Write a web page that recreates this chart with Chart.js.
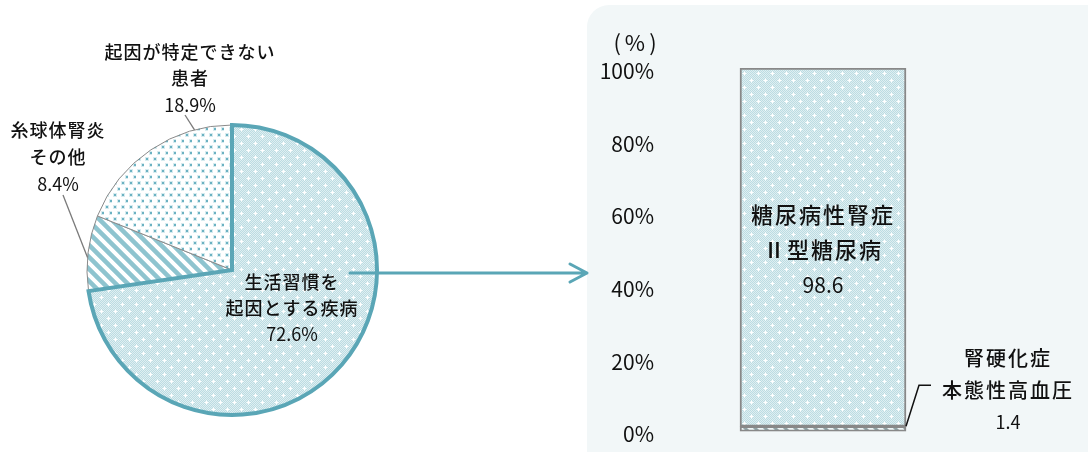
<!DOCTYPE html>
<html lang="ja">
<head>
<meta charset="utf-8">
<script src="https://cdn.jsdelivr.net/npm/chart.js@4.4.1/dist/chart.umd.min.js"></script>
<style>
  html, body { margin: 0; padding: 0; background: #fff; }
  body { width: 1088px; height: 452px; position: relative; overflow: hidden; }
  #panel { position: absolute; left: 587px; top: 5px; width: 540px; height: 480px; border-radius: 22px; background: #f2f7f8; }
  #barChart { position: absolute; left: 587px; top: 0; z-index: 1; }
  #pieChart { position: absolute; left: 0; top: 0; z-index: 2; }
</style>
</head>
<body>
<div id="panel"></div>
<canvas id="barChart" width="501" height="452"></canvas>
<canvas id="pieChart" width="600" height="452"></canvas>
<script>
// 原疾患の内訳（円）: 描画順に並べる（強調する扇形を最後に描く）
const pieLabels = [["糸球体腎炎", "その他"], ["起因が特定できない", "患者"], ["生活習慣を", "起因とする疾病"]];
const pieValues = [8.4, 18.9, 72.6];

// 生活習慣を起因とする疾病の内訳（積み上げ棒）
const barCategory = ["生活習慣を起因とする疾病"];
const barSeries = [["腎硬化症", "本態性高血圧"], ["糖尿病性腎症", "Ⅱ型糖尿病"]];
const barValues = [1.4, 98.6];
const yTicks = [0, 20, 40, 60, 80, 100];

const JP = '"Noto Sans CJK JP", "Noto Sans", sans-serif';
const TEAL = '#5aa6b6';
const INK = '#111';

function makePattern(w, h, paint) {
  const c = document.createElement('canvas');
  c.width = w; c.height = h;
  const g = c.getContext('2d');
  paint(g, w, h);
  return g.createPattern(c, 'repeat');
}

// 細かい市松＋白い十字
const crossFill = makePattern(14, 14, (g, w, h) => {
  for (let y = 0; y < h; y++) for (let x = 0; x < w; x++) {
    g.fillStyle = (x + y) % 2 ? '#bcdce2' : '#dfeff2';
    g.fillRect(x, y, 1, 1);
  }
  [[3, 3], [10, 10]].forEach(([cx, cy]) => {
    g.fillStyle = 'rgba(255,255,255,0.6)';
    g.fillRect(cx - 2, cy, 5, 1);
    g.fillRect(cx, cy - 2, 1, 5);
    g.fillStyle = '#fff';
    g.fillRect(cx - 1, cy, 3, 1);
    g.fillRect(cx, cy - 1, 1, 3);
  });
});

// 白地に青緑の点
const dotFill = makePattern(8, 12, (g, w, h) => {
  g.fillStyle = '#fff';
  g.fillRect(0, 0, w, h);
  [[2, 2], [6, 8]].forEach(([x, y]) => {
    g.fillStyle = '#d6ebef';
    g.fillRect(x - 1, y - 1, 4, 4);
    g.fillStyle = '#6cb2c2';
    g.fillRect(x, y, 2, 2);
  });
});

function stripes(size, bg, fg, lw) {
  return makePattern(size, size, (g, w, h) => {
    g.fillStyle = bg;
    g.fillRect(0, 0, w, h);
    g.strokeStyle = fg;
    g.lineWidth = lw;
    g.beginPath();
    for (let k = -1; k <= 1; k++) {
      g.moveTo(k * w - 2, -2);
      g.lineTo(k * w + w + 2, h + 2);
    }
    g.stroke();
  });
}
const stripeFill = stripes(12, '#fff', '#8ec4cf', 4.5);
const grayStripe = stripes(10, '#eef6f7', '#8fa3a6', 3);

function drawLines(ctx, lines, x, y, gap, size, spacing) {
  ctx.save();
  ctx.fillStyle = INK;
  ctx.textAlign = 'center';
  ctx.textBaseline = 'middle';
  lines.forEach((t, i) => {
    const isNum = i === lines.length - 1;
    ctx.font = (isNum ? '400 ' + size.num : '500 ' + size.jp) + 'px ' + JP;
    ctx.letterSpacing = isNum ? '0px' : spacing + 'px';
    ctx.fillText(t, x, y + i * gap);
  });
  ctx.restore();
}

const pieTotal = pieValues.reduce((a, b) => a + b, 0);

// ラベル・引出線・矢印
const pieNotes = {
  id: 'pieNotes',
  afterDraw(chart) {
    const ctx = chart.ctx;
    const arcs = chart.getDatasetMeta(0).data;
    const onArc = (arc, f) => {
      const a = arc.startAngle + f * (arc.endAngle - arc.startAngle);
      return [arc.x + arc.outerRadius * Math.cos(a), arc.y + arc.outerRadius * Math.sin(a)];
    };
    const notes = [
      { pos: [58, 130], gap: 27, leader: { f: 0.44, to: [63, 195] } },
      { pos: [190, 52], gap: 26.5, leader: { f: 0.78, to: [185, 115] } },
      { pos: [292, 282], gap: 26 }
    ];
    ctx.save();
    ctx.strokeStyle = '#7a7a7a';
    ctx.lineWidth = 1.3;
    notes.forEach((n, i) => {
      if (!n.leader) return;
      const [sx, sy] = onArc(arcs[i], n.leader.f);
      ctx.beginPath();
      ctx.moveTo(sx, sy);
      ctx.lineTo(n.leader.to[0], n.leader.to[1]);
      ctx.stroke();
    });
    ctx.restore();
    notes.forEach((n, i) => {
      drawLines(ctx, [...pieLabels[i], pieValues[i] + '%'], n.pos[0], n.pos[1], n.gap, { jp: 18, num: 18 }, 1);
    });

    // 強調扇形から棒グラフへの矢印
    const main = arcs[2];
    const y = main.y + 3;
    ctx.save();
    ctx.strokeStyle = TEAL;
    ctx.lineWidth = 3;
    ctx.lineCap = 'round';
    ctx.lineJoin = 'round';
    ctx.beginPath();
    ctx.moveTo(main.x + main.outerRadius - 27, y);
    ctx.lineTo(587, y);
    ctx.moveTo(570, y - 9);
    ctx.lineTo(587, y);
    ctx.lineTo(570, y + 9);
    ctx.stroke();
    ctx.restore();
  }
};

new Chart(document.getElementById('pieChart'), {
  type: 'pie',
  data: {
    labels: pieLabels.map(l => l.join('')),
    datasets: [{
      data: pieValues,
      backgroundColor: [stripeFill, dotFill, crossFill],
      borderColor: ['#8a8a8a', '#8a8a8a', TEAL],
      borderWidth: [1, 1, 4],
      borderJoinStyle: 'miter',
      hoverOffset: 0
    }]
  },
  options: {
    responsive: false,
    animation: false,
    events: [],
    rotation: -(pieValues[0] + pieValues[1]) / pieTotal * 360,
    layout: { padding: { left: 85, top: 123, right: 221, bottom: 35 } },
    plugins: { legend: { display: false }, tooltip: { enabled: false } }
  },
  plugins: [pieNotes]
});

const barNotes = {
  id: 'barNotes',
  afterDraw(chart) {
    const ctx = chart.ctx;
    const low = chart.getDatasetMeta(0).data[0];
    const high = chart.getDatasetMeta(1).data[0];
    const yScale = chart.scales.y;

    ctx.save();
    ctx.fillStyle = INK;
    ctx.textAlign = 'center';
    ctx.textBaseline = 'middle';
    ctx.font = '22px ' + JP;
    ctx.letterSpacing = '4px';
    ctx.fillText('(%)', yScale.left + 50, yScale.top - 25);
    ctx.restore();

    drawLines(ctx, [...barSeries[1], String(barValues[1])], high.x, 215, 35, { jp: 22, num: 21 }, 2);

    // 細い区分への引出線
    const rx = low.x + low.width / 2;
    ctx.save();
    ctx.strokeStyle = INK;
    ctx.lineWidth = 1.5;
    ctx.beginPath();
    ctx.moveTo(rx, low.y);
    ctx.lineTo(rx + 13, low.y - 41);
    ctx.lineTo(rx + 25, low.y - 41);
    ctx.stroke();
    ctx.restore();
    drawLines(ctx, [...barSeries[0], String(barValues[0])], rx + 102, 358, 32, { jp: 20, num: 18 }, 2);
  }
};

new Chart(document.getElementById('barChart'), {
  type: 'bar',
  data: {
    labels: barCategory,
    datasets: barValues.map((v, i) => ({
      label: barSeries[i].join(''),
      data: [v],
      backgroundColor: i ? crossFill : grayStripe,
      borderColor: '#888',
      borderWidth: 2,
      borderSkipped: false,
      barThickness: 166
    }))
  },
  options: {
    responsive: false,
    animation: false,
    events: [],
    layout: { padding: { left: 0, right: 112, top: 68, bottom: 19 } },
    scales: {
      x: { stacked: true, display: false },
      y: {
        stacked: true,
        min: 0,
        max: 100,
        border: { display: false },
        grid: { display: false },
        afterFit: s => { s.width = 83; },
        afterBuildTicks: s => { s.ticks = yTicks.map(v => ({ value: v })); },
        ticks: {
          padding: 8,
          labelOffset: 3,
          color: INK,
          font: { family: JP, size: 21 },
          callback: v => v + '%'
        }
      }
    },
    plugins: { legend: { display: false }, tooltip: { enabled: false } }
  },
  plugins: [barNotes]
});
</script>
</body>
</html>
